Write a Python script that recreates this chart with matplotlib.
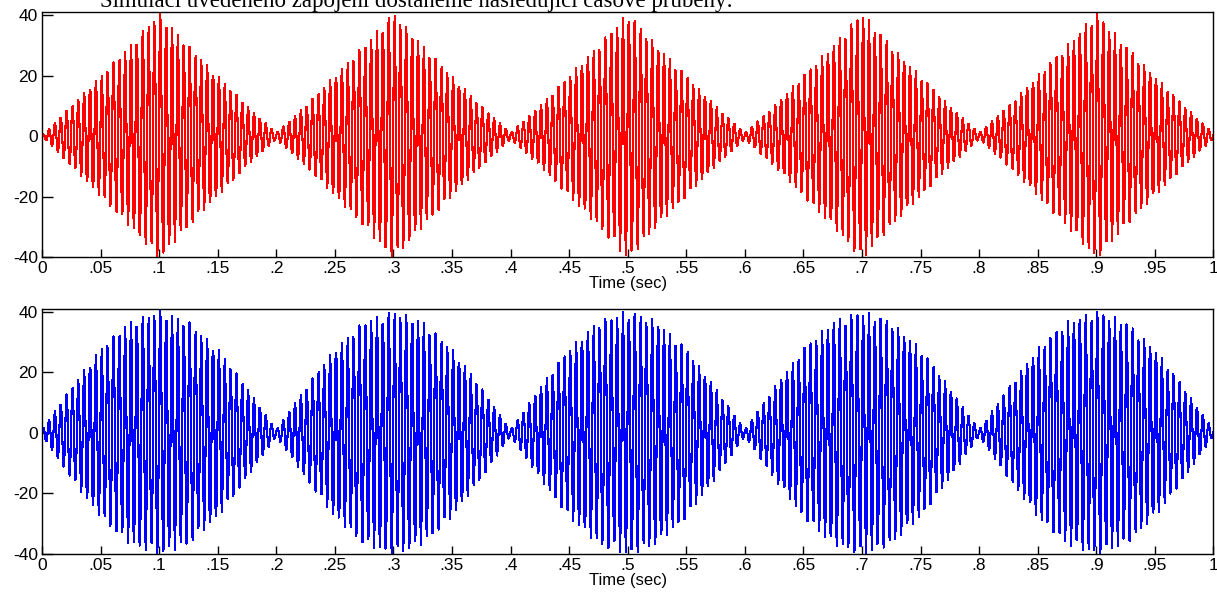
import numpy as np
import matplotlib
matplotlib.use('Agg')
import matplotlib.pyplot as plt

# envelope, one knot every 0.025 s
knot_t = np.round(np.arange(0, 1.0001, 0.025), 4)
env_red = [0, 10, 20, 30, 41, 30, 20, 10,
           1, 10, 20, 30, 41, 30, 20, 10,
           1, 10, 20, 30, 41, 30, 20, 10,
           1, 10, 20, 30, 41, 30, 20, 10,
           1, 10, 20, 30, 41, 30, 20, 10, 1]
env_blue = [1, 15, 28, 37, 40.5, 37, 28, 15,
            1, 15, 28, 37, 40.5, 37, 28, 15,
            1, 15, 28, 37, 40.5, 37, 28, 15,
            1, 15, 28, 37, 40.5, 37, 28, 15,
            1, 15, 28, 37, 40.5, 37, 28, 15, 1]
carrier_hz = 200.0   # ~20 cycles per 0.1 s counted in the picture
sample_hz = 1524     # coarse simulation step, gives the uneven peak heights

xticks = np.round(np.arange(0, 1.0001, 0.05), 2)
xticklabels = ['0', '.05', '.1', '.15', '.2', '.25', '.3', '.35', '.4', '.45',
               '.5', '.55', '.6', '.65', '.7', '.75', '.8', '.85', '.9', '.95', '1']
yticks = [-40, -20, 0, 20, 40]
title = 'Simulací uvedeného zapojení dostaneme následující časové průběhy:'

plt.rcParams['font.family'] = ['Liberation Sans', 'DejaVu Sans']

t = np.arange(0, 1.0 + 0.5 / sample_hz, 1 / sample_hz)
carrier = np.sin(2 * np.pi * carrier_hz * t + 0.3)

fig = plt.figure(figsize=(12.17, 6.03), dpi=100)
ax1 = fig.add_axes([0.0345, 0.5738, 0.9625, 0.4063])
ax2 = fig.add_axes([0.0345, 0.0813, 0.9625, 0.4063])

for ax, env, col in [(ax1, env_red, '#ff0000'), (ax2, env_blue, '#0000ff')]:
    y = np.interp(t, knot_t, env) * carrier
    ax.plot(t, y, color=col, lw=0.8, antialiased=False)
    ax.set_xlim(0, 1)
    ax.set_ylim(-40, 41)
    ax.set_xticks(xticks)
    ax.set_xticklabels(xticklabels)
    ax.set_yticks(yticks)
    ax.set_yticklabels([str(v) for v in yticks])
    ax.tick_params(direction='in', labelsize=12.5, length=6, width=1,
                   top=False, right=False, pad=3, colors='black')
    ax.tick_params(axis='y', length=8)
    for s in ax.spines.values():
        s.set_linewidth(1.0)
    ax.set_xlabel('Time (sec)', fontsize=12, labelpad=0)

fig.text(0.082, 1 - 7 / 603, title, family='Liberation Serif', fontsize=16.5,
         va='baseline', ha='left')

fig.savefig('out.png', dpi=100)
